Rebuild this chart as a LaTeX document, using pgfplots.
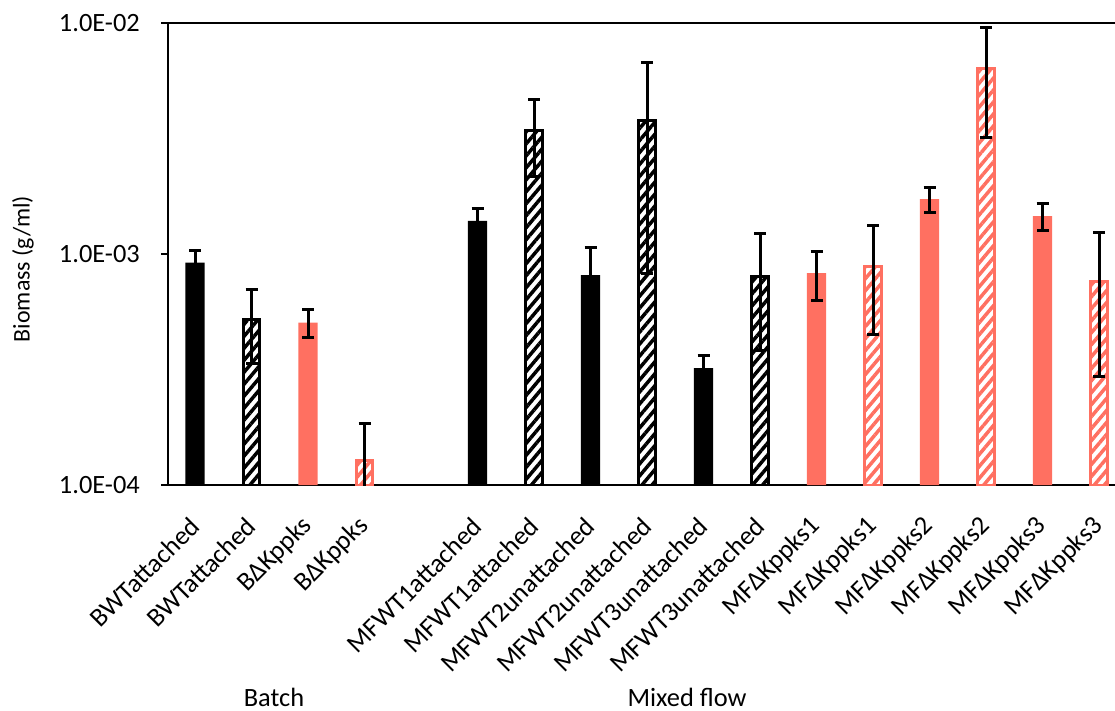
\documentclass[border=0pt]{standalone}
\usepackage{pgfplots}
\pgfplotsset{compat=1.18}
\usepackage{fontspec}
\setmainfont{Carlito}
\usetikzlibrary{patterns.meta}
\definecolor{salmon}{RGB}{255,112,97}
\begin{document}
\begin{tikzpicture}
\begin{axis}[
  at={(168bp,226bp)}, anchor=south west,
  scale only axis, width=959.3bp, height=462bp,
  ymode=log, ymin=1e-4, ymax=1e-2, log origin=infty,
  xmin=-0.478, xmax=16.5,
  xtick={0,1,2,3,5,6,7,8,9,10,11,12,13,14,15,16},
  xticklabels={BWTattached,BWTattached,BΔKppks,BΔKppks,MFWT1attached,MFWT1attached,MFWT2unattached,MFWT2unattached,MFWT3unattached,MFWT3unattached,MFΔKppks1,MFΔKppks1,MFΔKppks2,MFΔKppks2,MFΔKppks3,MFΔKppks3},
  x tick style={draw=none},
  ytick={1e-4,1e-3,1e-2}, yticklabels={1.0E-04,1.0E-03,1.0E-02},
  yminorticks=false, ytick pos=left,
  axis line style={line width=2.2bp, black},
  tick align=outside, major tick length=7bp,
  y tick style={line width=2.2bp, black},
  ticklabel style={font=\fontsize{26.5}{30}\selectfont},
  xticklabel style={rotate=45, anchor=east, inner sep=0pt},
  xticklabel shift=30bp,
  yticklabel style={inner sep=0pt},
  yticklabel shift=21bp,
  clip=true,
]
% solid black
\addplot[ybar, bar width=0.34, bar shift=0pt, fill=black, draw=none,
  error bars/.cd, y dir=both, y explicit,
  error bar style={line width=3bp, black},
  error mark options={rotate=90, mark size=6bp, line width=3bp, black}]
  coordinates {(0,9.17e-4) +- (0,1.2e-4) (5,1.39e-3) +- (0,1.9e-4) (7,8.11e-4) +- (0,2.6e-4) (9,3.21e-4) +- (0,4.4e-5)};
% hatched black
\addplot[ybar, bar width=0.30, bar shift=0pt, draw=black, line width=3bp,
  pattern={Lines[angle=50, distance=7.7bp, line width=3.5bp]}, pattern color=black,
  error bars/.cd, y dir=both, y explicit,
  error bar style={line width=3bp, black},
  error mark options={rotate=90, mark size=6bp, line width=3bp, black}]
  coordinates {(1,5.2e-4) +- (0,1.85e-4) (6,3.41e-3) +- (0,1.24e-3) (8,3.77e-3) +- (0,2.95e-3) (10,8.03e-4) +- (0,4.2e-4)};
% solid red
\addplot[ybar, bar width=0.34, bar shift=0pt, fill=salmon, draw=none,
  error bars/.cd, y dir=both, y explicit,
  error bar style={line width=3bp, black},
  error mark options={rotate=90, mark size=6bp, line width=3bp, black}]
  coordinates {(2,5.04e-4) +- (0,7e-5) (11,8.27e-4) +- (0,1.95e-4) (13,1.73e-3) +- (0,2.2e-4) (15,1.46e-3) +- (0,1.9e-4)};
% hatched red
\addplot[ybar, bar width=0.30, bar shift=0pt, draw=salmon, line width=3bp,
  pattern={Lines[angle=50, distance=7.7bp, line width=3.5bp]}, pattern color=salmon,
  error bars/.cd, y dir=both, y explicit,
  error bar style={line width=3bp, black},
  error mark options={rotate=90, mark size=6bp, line width=3bp, black}]
  coordinates {(3,1.28e-4) +- (0,5.6e-5) (12,8.87e-4) +- (0,4.4e-4) (14,6.38e-3) +- (0,3.2e-3) (16,7.64e-4) +- (0,4.7e-4)};
\end{axis}
\pgfresetboundingbox
\useasboundingbox (0,0) rectangle (1115bp,711bp);
\node[rotate=90, font=\fontsize{24}{28}\selectfont] at (23bp,442bp) {Biomass (g/ml)};
\node[font=\fontsize{26.5}{30}\selectfont] at (274bp,14bp) {Batch};
\node[font=\fontsize{26.5}{30}\selectfont] at (687bp,14bp) {Mixed flow};
\end{tikzpicture}
\end{document}
